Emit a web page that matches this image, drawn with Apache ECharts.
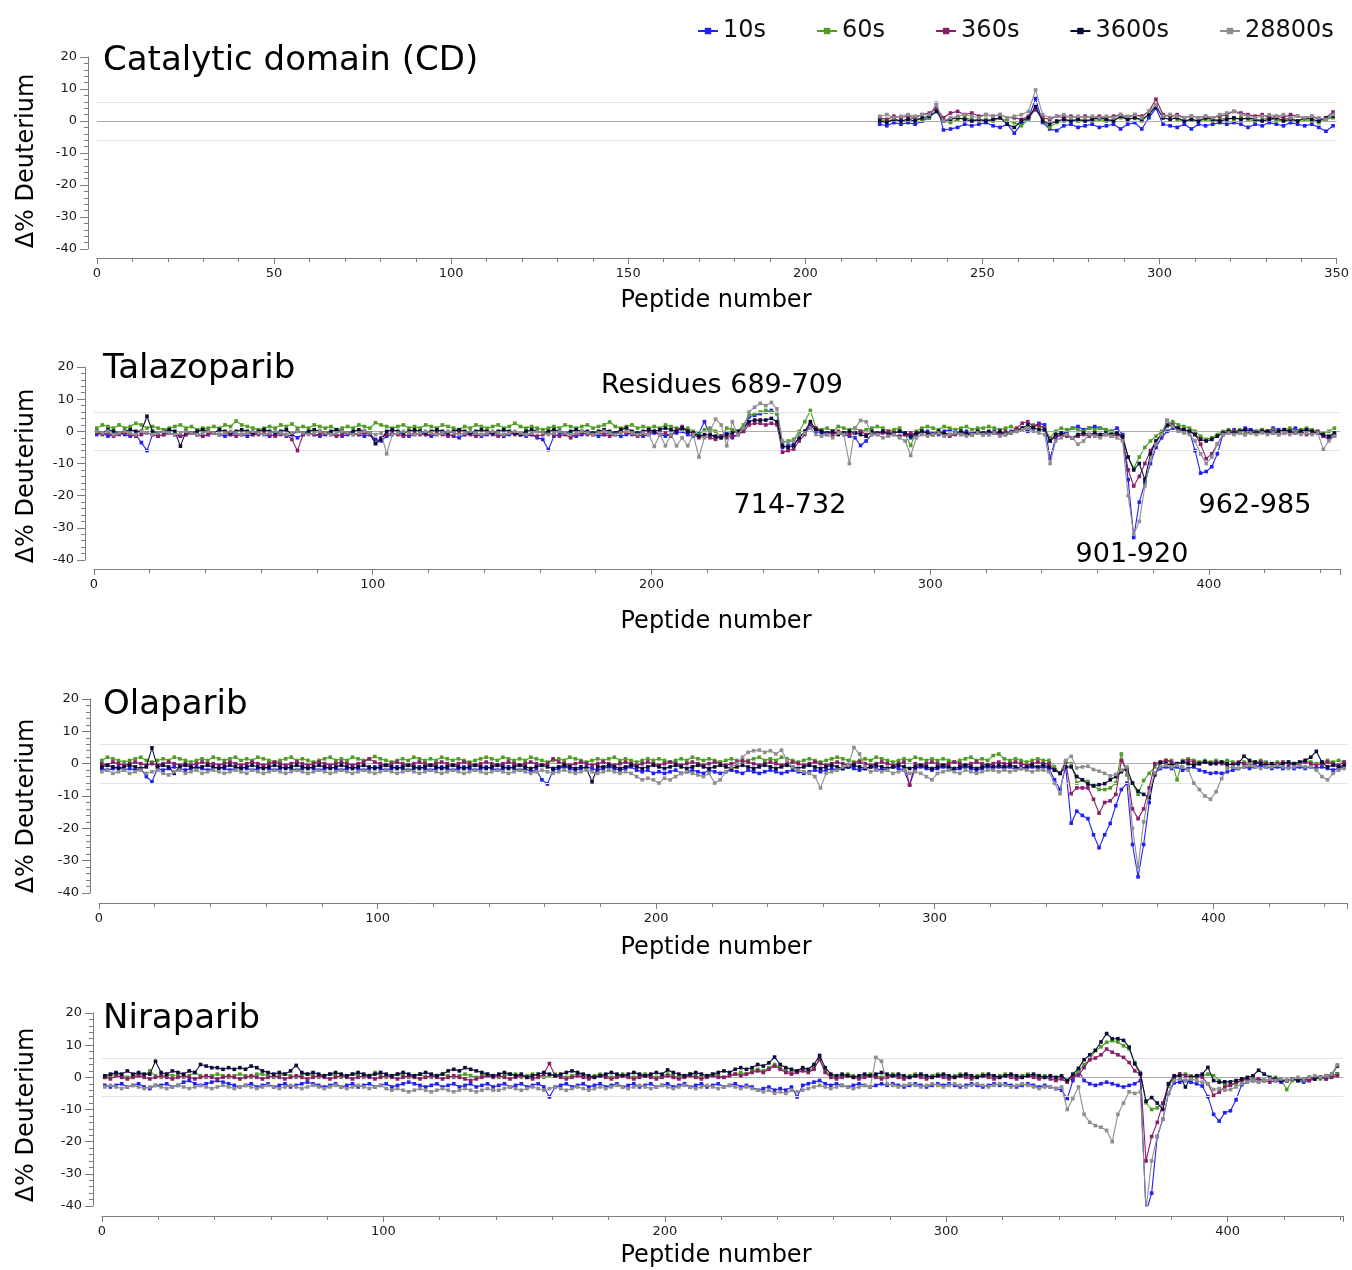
<!DOCTYPE html>
<html><head><meta charset="utf-8">
<script src="https://cdn.jsdelivr.net/npm/echarts@6/dist/echarts.min.js"></script>
<style>html,body{margin:0;padding:0;background:#fff}#c{width:1352px;height:1270px}</style>
</head><body><div id="c"></div>
<script>
// ---------- DATA (Δ% deuterium, one value every 2nd peptide) ----------
const timePoints = ['10s', '60s', '360s', '3600s', '28800s'];

// Catalytic domain: peptides 221..349 (step 2)
const cdFirstPeptide = 221;
const cd_10s = [-1,-1.5,-0.5,-1,-0.5,-1,0,1,5.5,-2.8, -2.5,-2,-1,-1.5,-1,-0.5,-1.5,-2,-1,-3.8, -1,1,7,-0.5,-2.5,-3,-1.5,-1,-2,-1.5, -1,-2,-1.5,-1,-2.5,-1,-0.5,-2.5,1,4, -1,-1.5,-2,-1,-2.5,-1,-1.5,-1,-0.5,-1, -0.5,-1,-2,-1,-1.5,-0.5,-1,-1.5,-0.5,-1, -1.5,-1,-2,-3.2,-1.5];
const cd_60s = [0.5,0,0.5,0,0.5,1,0.5,1,3,0, -0.5,0.5,1,0.5,0,0.5,0,1,0,-0.5, -1.5,0.5,4,0,-2,-0.5,0,0.5,0,0.5, 0,0.5,0,0.5,1,0.5,1,0,2,5, 1,2,0.5,0,0.5,0,0.5,0,0.5,1, 0.5,1,0.5,0,0.5,1,0,0.5,1,0, 0.5,0,-0.5,0.5,1];
const cd_360s = [1,0.5,1.5,1,1.5,1,2,2.5,4,1, 2.5,3,2,2.5,1.5,2,1.5,2,1,1, 0.5,1.5,3.5,1,0.5,1.5,1,1.5,1,1.5, 1,1.5,1,1.5,2,1,2,1.5,3,6.8, 2,1.5,2,1,1.5,1,1.5,1,1.5,2, 3,2.5,2,1.5,2,1,1.5,1,2,1.5, 1,1.5,0.5,1,2.8];
const cd_3600s = [0,-0.5,0.5,0,0.5,0,1,1.5,3,0, 0.5,1,0.5,0,0.5,0,0.5,1,-1,-2, 0,1,4.5,0,-1,0,0.5,0,0.5,0, 0.5,1,0.5,0,1.5,0.5,1,0.5,2,4.5, 1,0.5,1,0,0.5,0,1,0.5,0,0.5, 1,0.5,1,0.5,0,0.5,1,0,0.5,0, 1,0.5,0,1,1.5];
const cd_28800s = [1.5,2,1,1.5,2,1.5,2,2,5,0, 1,1.5,2,1.5,1,2,1.5,2,1,1.5, 2,3,9.7,2,1,1.5,2,1,1.5,1, 1.5,1,1.5,1,2,1.5,2,1,3,5, 1.5,2,1.5,1,1.5,1,1.5,1,2,2.5, 3,2,1.5,1,1.5,2,1.5,2,1,1.5, 1,1.5,1,0.5,2];

// Talazoparib: peptides 1..445 (step 2)
const talFirstPeptide = 1;
const tal_10s = [-1,-0.5,-1.5,-1,-0.5,-1,-1.5,-1,-3.5,-6, -1,-1.5,-1,-0.5,-1,-1.5,-1,-0.5,-1,-1.5, -1,-0.5,-1,-1.5,-1,-0.5,-1,-1.5,-1,-0.5, -1,-1.5,-1,-0.5,-1.5,-1,-2,-1,-0.5,-1, -1.5,-1,-0.5,-1,-1.5,-1,-0.5,-1,-1.5,-1, -2.5,-3,-1.5,-1,-0.5,-1,-1.5,-1,-0.5,-1, -1.5,-1,-0.5,-1,-1.5,-2,-1,-0.5,-1,-1.5, -1,-0.5,-1,-1.5,-1,-0.5,-1,-1.5,-1,-2, -2.5,-5.7,-1.5,-1,-0.5,-1,-1.5,-1,-0.5,-1, -1.5,-1,-0.5,-1,-1.5,-1,-0.5,-1,-1.5,-1, -0.5,-1,-1.5,-1,-0.5,0,-1,-1.5,-0.5,3, -1,-2,-1.5,-0.5,-2,-1,0,4.5,5,5.5, 6,6.5,5.5,-5,-4.5,-4,-2,0,2,0, -0.5,-1,0,-0.5,-1,-1.5,-2,-4.4,-3,-1, -0.5,0,-1,-0.5,0,-1,-2,-1,-0.5,0, -0.5,-1,0,0.5,-0.5,-1,0,-0.5,0,-1, -0.5,0,-1,-0.5,0,0.5,1,0,1.5,2.5, 2,-8.5,-2,-1,0,1,1.5,0.5,1,1.5, 1,0.5,0,1,-1,-15,-33,-22,-16,-10, -5,-2,0,1,0.5,0,0,-6,-13,-12.5, -11,-7,-1,0,0.5,0,1,0.5,0,0.5, 0,1,0.5,0,0.5,1,0,0.5,0,-0.5, -1.5,-2.5,-1.5];
const tal_60s = [1,2,1.5,1,2,1,1.5,2.5,2,1, 1.5,1,0.5,1,1.5,2,1,1.5,0.5,1, 1,1.5,1,2,1.5,3.2,2,1.5,1,0.5, 1,1.5,1,2,1.5,2.3,1,1.5,1,2, 1.5,1,1.5,0.5,1,1.5,1,2,1.5,1, 2.7,2,1.5,1,1.5,2,1,1.5,1,2, 1.5,1,2,1.5,1,0.5,1.5,1,2,1.5, 1,1.5,2,1,1.5,2.5,1.5,1,1.5,1, 0.5,1,1.5,1,2,1.5,1,1.5,2,1, 1.5,2,2.9,1.5,1,1.5,2,1,1.5,1, 1.5,1,2,1.5,1,0.5,1,0,-1,0.5, 1,0,-2,1,0.5,0,2,5,5.5,6, 6.5,6,5.5,-3.5,-3,-2.5,0,3,6.5,1, 0.5,1,0,1.5,1,0.5,1,0,0.5,1, 1.5,1,0,0.5,1,-1,-4.4,0,1,1.5, 1,0.5,1.5,1,0.5,1,1.5,0.5,1,1, 1.5,1,0.5,1,1.5,0.5,1,1,2,1.5, 1,-2,0,1,0.5,1,0.5,0,1,0.5, 1,0.5,0,-0.5,-1.5,-8,-11.5,-8,-5,-3, -1.5,0,1.5,3,2,1.5,1,0,-1.5,-2.5, -2,-1,0,0.5,0,0.5,0,-0.5,0,0.5, 0,0.5,0,0.5,1,0,0.5,1,0.5,0, -0.5,0,1];
const tal_360s = [-0.5,-1,-0.5,-1.5,-1,-0.5,-1,-1.5,-1,-0.5, -1,-1.5,-1,-0.5,-1,-1.5,-1,-0.5,-1,-1.5, -1,-0.5,-1,-0.5,-1,-1.5,-1,-0.5,-1,-1, -0.5,-1,-1.5,-1,-1,-2.5,-6,-1,-0.5,-1, -1,-0.5,-1,-1.5,-1,-0.5,-1,-1,-0.5,-1, -3.8,-2,-1,-0.5,-1,-1.5,-1,-0.5,-1,-1, -1,-0.5,-1,-1.5,-1,-0.5,-1,-1,-1.5,-1, -0.5,-1,-1.5,-1,-0.5,-1,-1,-0.5,-1,-1.5, -1,-0.5,-1,-1.5,-1,-2,-1,-0.5,-1,-1, -0.5,-1,-1.5,-1,0,-0.5,-1,-1.5,-1,-0.5, 0,-1,-0.5,-1.5,0.5,1.5,0,-1,-2,-1.5, -2,-2.5,-1.5,-2,-1.5,-1,0,2,2.5,2.5, 2,2.5,2,-6.5,-6,-5.5,-3,-1,2,1, 0,-0.5,-1,0,-0.5,-1,-0.5,0,-1,-0.5, -1,-0.5,0,-1,-1.5,-1,-0.5,-1,0,-0.5, -1,-0.5,-1,-1.5,-1,-0.5,-1,-1,-0.5,-1, -1,-0.5,-1,0,-0.5,1,2.5,3,1.5,2, 1,-3,-1.5,-1,-1.5,-2,-1.5,-1,-1.5,-1, -1.5,-1,-1.5,-1,-2,-12,-17,-14,-10,-6, -3,-1,3.4,2,1,0.5,0,-1,-4,-8.5, -7,-4,-1,-0.5,0,-0.5,-1,0,-0.5,0, -0.5,0,-1,-0.5,0,-0.5,0,-1,-0.5,0, -1.5,-2,-1];
const tal_3600s = [0,-0.5,0.5,0,-0.5,0,0.5,0,0,4.7, 0,-0.5,0,0.5,0,-4.6,0,-0.5,0,0.5, 0,-0.5,0.5,0,-0.5,0,0.5,0,-0.5,0, 0.5,0,-0.5,0,0.5,-1,0,-0.5,0,0.5, 0,-0.5,0,0.5,0,-0.5,0,0.5,0,-0.5, -3.8,-2.5,0,0.5,0,-0.5,0,0.5,0,-0.5, 0,0.5,0,-0.5,0,0.5,0,-0.5,0,0.5, 0,-0.5,0,0.5,0,-0.5,-1,0,0.5,0, -0.5,0,0.5,0,-0.5,0,0.5,0,0,-0.5, 0,0.5,0,-0.5,0.5,1,0,-0.5,0,0.5, 0,0.5,1,0.5,0,1,0,-0.5,-1.5,-1, -1,-1.5,-2,-1,-0.5,0,1,3,3.5,3.5, 3.5,4,3,-4.5,-5,-4.5,-2,0,3,0.5, 0,-0.5,0,-1,-0.5,0,-0.5,-1,-1.5,0, -0.5,0,-1,-0.5,0,-0.5,-1.5,-0.5,0,-0.5, -1,0,-0.5,-1,-0.5,0,-0.5,-1,0,-0.5, 0,-0.5,0,-1,-0.5,0,1,2,1,0.5, 0.5,-3,-1,-0.5,-1,-2,-1,-0.5,-1,-0.5, -1,-0.5,-1,-0.5,-1.5,-8,-12,-10,-15,-7, -3,-1,2,1.5,1,0.5,0,-1,-2.5,-3, -2.5,-1.5,-0.5,0,-0.5,0,0.5,0,-0.5,0, 0,-0.5,0,0.5,0,-0.5,0,0.5,0,-0.5, -1,-1.5,-0.5];
const tal_28800s = [0,-0.5,0,-1,-0.5,0,-0.5,-1,0,-0.5, -1,-0.5,0,-0.5,-1,-0.5,0,-0.5,-1,-0.5, 0,-0.5,-1,-0.5,0,-0.5,-1,-0.5,0,-0.5, -1,-0.5,0,-0.5,-1,-0.5,0,-0.5,-1,-0.5, 0,-0.5,-1,-0.5,0,-0.5,-1,-0.5,0,-0.5, -1,-0.5,-7,-1,-0.5,0,-0.5,-1,-0.5,0, -0.5,-1,-0.5,0,-0.5,-1,-0.5,0,-0.5,-1, -0.5,0,-0.5,-1,-0.5,0,-0.5,-1,-0.5,0, -0.5,-1,-0.5,0,-0.5,-1,-0.5,0,-0.5,-1, -0.5,0,-0.5,-1,-0.5,0,-0.5,-1,-0.5,-1, -4.7,-1,-4.5,-1,-4.5,-2,-4.5,-1,-8,-2, 0,3.8,2,-4.5,3,-1,1,6,7.5,8.7, 8,9,7,-3,-3.5,-3,-1,-0.5,1,-1, -1.5,-1,-2,-0.5,-1,-10,1,3.4,3,-1, -1,-2,-1.5,-1,-2,-3,-7.5,-2,-1,-1.5, -1,-0.5,-1.5,-1,-0.5,-1,-1.5,-1,-0.5,-1, -1,-0.5,-1.5,-1,-0.5,0,0.5,1,0,-0.5, -1,-10,-3,-2,-1,-2,-4,-3,-1,-1.5, -2,-1,-1.5,-2,-3,-20,-32,-28,-17,-9, -4,-1,3.4,1.5,0,-0.5,-1,-3,-7,-10, -8,-4,-1,-0.5,-1,-0.5,-1,-0.5,-1,-0.5, -1,-0.5,-1,-0.5,-1,-0.5,-1,-0.5,-1,-0.5, -5.6,-3,-1.5];

// Olaparib: peptides 1..447 (step 2)
const olaFirstPeptide = 1;
const ola_10s = [-1.5,-2,-1.5,-1,-2,-1.5,-2,-1.5,-4,-5.6, -1.5,-2,-1.5,-1,-1.5,-2,-1.5,-1,-1.5,-2, -1.5,-1,-1.5,-2,-1.5,-1,-1.5,-2,-1.5,-1, -1.5,-2,-1.5,-1,-1.5,-2,-1.5,-1,-1.5,-2, -1.5,-1,-1.5,-2,-1.5,-1,-1.5,-2,-1.5,-1, -1.5,-2,-1.5,-1,-1.5,-2,-1.5,-1,-1.5,-2, -1.5,-1,-1.5,-2,-1.5,-1,-1.5,-2,-1.5,-1, -1.5,-2,-1.5,-1,-1.5,-2,-1.5,-2.5,-2,-5, -6.3,-2,-1.5,-1,-1.5,-2,-1.5,-1,-1.5,-2, -1.5,-1,-1.5,-2,-1.5,-1,-2,-2.5,-2,-3, -2.5,-3,-2.5,-2,-3,-2.5,-2,-2.5,-3,-2, -2.5,-3,-2.5,-2,-2.5,-3,-2,-2.5,-3,-2.5, -2,-2.5,-3,-2.5,-2,-2.5,-3,-2.5,-2,-2.5, -2,-1.5,-2,-1.5,-1,-1.5,-2,-1.5,-1,-1.5, -2,-1.5,-1,-1.5,-2,-6.6,-1.5,-1,-1.5,-2, -1.5,-1,-1.5,-2,-1.5,-1,-1.5,-2,-1.5,-1, -1.5,-1,-1.5,-1,-1.7,-1,-1.5,-1,-1.5,-1, -1.5,-5,-8,-1,-18.4,-14.7,-16,-17,-22,-26, -22,-18.5,-13,-8,-6,-25,-35,-25,-12,-3, -1.5,-1,-1.5,-1,-2,-1.5,-1,-2,-2.5,-3, -2.8,-3,-2.5,-2,-1.5,-1,-1.5,-1,-0.5,-1, -1.5,-1,-1.5,-1,-1.5,-1,-1.5,-1,-1.5,-1, -1.5,-2,-1.5,-1];
const ola_60s = [1,2,1.5,1,0.5,1,1.5,2,1,0.5, 1,1.5,1,2,1.5,1,0.5,1,1.5,1, 2,1.5,1,1.5,2,1,1.5,1,2,1.5, 1,0.5,1,1.5,2,1,1.5,1,0.5,1, 1.5,2,1,1.5,1,2,1.5,1,1.5,2.2, 1.5,1,0.5,1,1.5,1,2,1.5,1,1.5, 1,2,1.5,1,1.5,1,0.5,1,1.5,2, 1.5,1,2,1.5,1,1.5,1,2,1.5,1, 0.5,1,1.5,1,2,1.5,1,0.5,1,1.5, 1,1.5,2,1,1.5,1,0.5,1,1.5,1, 1.5,1,0.5,1,1.5,1,2,1.5,1,1.5, 1,0.5,1,1.5,1,0.5,1,1.5,2,1, 1.5,1,2,1.5,1,0.5,1,1.5,1,0.5, 1,1.5,2,1.5,1,0.5,1,1.5,1,2, 1.5,1,0.5,1,1.5,1,2,1.5,1,1.5, 1,1.5,1,0.5,1,1.5,2,1,1.5,1, 2.5,3,1.5,1,1.5,1,0.5,1,1.5,1, 1,-1,-3,0.5,0,-6,-5,-5.5,-7,-8, -8,-7.5,-6,3,-3.5,-6,-9.5,-5.2,-3,-1, 0.5,1,1,-5,1,1.5,1,0.5,1,0.5, 1,0.5,1,0.5,0,0.5,0,0.5,1,0.5, 0,0.5,0,0.5,0,0.5,1,0.5,0,0.5, 1,0.5,1,0.5];
const ola_360s = [0,-0.5,0.5,0,-0.5,0,0.5,0,-0.5,0, -0.5,0,0.5,0,-0.5,0,-0.5,0,0.5,0, 0,-0.5,0,0.5,0,-0.5,0,0.5,0,-0.5, 0,0.5,0,-0.5,0,0.5,0,-0.5,0,0.5, 0,-0.5,0,0.5,0,-0.5,0,0.5,1.5,0.5, 0,-0.5,0,0.5,0,-0.5,0,0.5,0,-0.5, 0,0.5,0,-0.5,0,0.5,0,-0.5,0,0.5, 0,-0.5,0,0.5,0,-0.5,0,0.5,0,-0.5, 0,1.5,0.5,0,-0.5,0,0.5,0,-0.5,0, 0.5,0,-0.5,0,0.5,0,-0.5,0,0.5,0, -0.5,0,0.5,0,-0.5,0,0.5,0,-0.5,0, 0.5,0,-0.5,0,0.5,1,0.5,0,-0.5,0, 0.5,0,-0.5,0,0.5,0,-0.5,0,0.5,0, -0.5,0,0.5,0,-0.5,0,0.5,0,-0.5,0, 0.5,0,-0.5,0,0.5,-6.6,0,-0.5,0,0.5, 0,-0.5,0,0.5,0,-0.5,0,0.5,0,-0.5, 0,0.5,0,0.1,0.5,0,-0.5,0,0.5,0, 0,-2,-3,0.5,-9.3,-7.5,-7.5,-7.5,-11,-15.3, -12,-11.5,-9.5,1,-2,-14,-17,-14,-7.5,0, 0.5,1,0.5,0,0.5,1,0.5,0,0.5,0, 0.5,0,-0.5,0,0.5,0,-0.5,0,0.5,0, -0.5,0,0.5,0,-0.5,0,0.5,0,-0.5,0, 0.5,0,-0.5,0.5];
const ola_3600s = [-1,-0.5,-1,-1.5,-1,-0.5,-1,-1.5,-1,4.9, -1,-0.5,-1,-3,-1,-0.5,-1,-1.5,-1,-0.5, -1,-1.5,-1,-0.5,-1,-1.5,-1,-0.5,-1,-1.5, -1,-0.5,-1,-1.5,-1,-0.5,-1,-1.5,-1,-0.5, -1,-1.5,-1,-0.5,-1,-1.5,-1,-0.5,-1,-1.5, -1,-0.5,-1,-1.5,-1,-0.5,-1,-1.5,-1,-0.5, -1,-1.5,-1,-0.5,-1,-1.5,-1,-0.5,-1,-1.5, -1,-0.5,-1,-1.5,-1,-0.5,-1,-1.5,-1,-0.5, -1,-1.5,-1,-0.5,-1,-1.5,-1,-1.5,-5.6,-1, -1,-0.5,-1,-1.5,-1,-0.5,-1,-1.5,-1,-0.5, -1,-1.5,-1,-0.5,-1,-1.5,-1,-0.5,-1,-1.5, -1,-0.5,-1,-1.5,-1,-0.5,-1,-1.5,-1,-0.5, -1,-1.5,-1,-0.5,-1,-1.5,-1,-0.5,-1,-1.5, -1,-0.5,-1,-1.5,-1,-0.5,-1,-1.5,-1,-0.5, -1,-1.5,-1,-0.5,-1,-1.5,-1,-0.5,-1,-1.5, -1,-0.5,-1,-1.5,-1,-0.5,-1,-1.5,-1,-0.5, -1,-0.5,-1,-0.5,-1,-1.5,-1,-0.5,-1,-0.5, -1,-2,-3,-1,-1,-4,-5,-6.3,-6.8,-6.5, -6.2,-5,-4,-2.5,-1.5,-6,-8.5,-9.5,-10.5,-3.5, 0.3,0,-0.5,0,0.5,0,-0.5,0,0.5,0, 0,0.5,0,-0.5,0,2.3,1,0.5,0,-0.5, 0,-0.5,0,0.5,0,0.5,1,2,3.8,0.5, -1,-0.5,-1,-0.5];
const ola_28800s = [-2.5,-2,-3,-2.5,-2,-3,-2.5,-2,-3,-2.5, -2,-3,-3.5,-2.5,-2,-3,-2.5,-2,-3,-2.5, -2,-2.5,-3,-2.5,-2,-2.5,-3,-2,-2.5,-3, -2.5,-2,-2.5,-3,-2.5,-2,-2.5,-3,-2.5,-2, -2.5,-3,-2.5,-2,-2.5,-3,-2.5,-2,-2.5,-3, -2.5,-2,-2.5,-3,-2.5,-2,-2.5,-3,-2.5,-2, -2.5,-3,-2.5,-2,-2.5,-3,-2.5,-2,-2.5,-3, -2.5,-2,-2.5,-3,-2.5,-2,-2.5,-3,-2.5,-2, -2.5,-3,-2.5,-2,-2.5,-3,-2.5,-2,-2.5,-3, -2.5,-2,-2.5,-3,-2.5,-3,-4,-5,-4.5,-5, -6,-4.5,-5,-4,-3,-2.5,-3,-3.5,-4,-3, -6,-5,-2.5,-1,0,2,3.5,4,4.2,3.5, 4,3,4.2,1,-1,-2,-2.5,-3,-4,-7.5, -3,-2.5,-2,-1,-0.5,5,3,-1,-2.5,-2, -2.5,-2,-3,-2.5,-2,-3,-2.5,-3,-4,-5, -3,-2.5,-2,-2.5,-3,-2,-2.5,-3,-2.5,-2, -2,-2.5,-2,-2.5,-2,-1.5,-2,-2.5,-2,-2, -2.5,-6,-9.3,1,2.3,-1.3,-1,-0.8,-1.8,-2.3, -3,-3.8,-3.3,-2,-1,-20,-32,-18,-9,-2.8, -1,-0.5,-1,-0.5,-1,-2,-6,-8,-10,-11, -8.7,-4.6,-1.5,-1,-1.5,-1,-0.5,-1,-1.5,-1, -1,-0.5,-1,-1.5,-1,-0.5,-1,-1,-2,-4, -5,-3,-2,-1.5];

// Niraparib: peptides 1..439 (step 2)
const nirFirstPeptide = 1;
const nir_10s = [-2.5,-3,-2.5,-2,-3,-2.5,-2,-3,-3.5,-2.5, -2.5,-2,-3,-2.5,-1.5,-1,-2,-2.5,-2,-1.5, -1,-1.5,-2,-2.5,-3,-2.5,-2,-3,-2.5,-2, -3,-2.5,-2,-3,-2.5,-2,-1.5,-2,-2.5,-3, -2.5,-2,-3,-2.5,-2,-3,-2.5,-2,-3,-2.5, -2,-3,-2.5,-2,-1.5,-2,-2.5,-3,-2.5,-2, -3,-2.5,-2,-3,-2.5,-2,-3,-2.5,-2,-3, -2.5,-2,-3,-2.5,-2,-3,-2.5,-2,-3,-6.1, -3,-2.5,-2,-3,-2.5,-2,-3,-2.5,-2,-3, -2.5,-2,-3,-2.5,-2,-3,-2.5,-2,-3,-2.5, -2,-3,-2.5,-2,-3,-2.5,-2,-3,-2.5,-2, -3,-2.5,-2,-3,-2.5,-3,-4,-3.5,-3,-4, -3.5,-4,-3,-6.1,-2.5,-2,-1.5,-1,-2,-2.5, -2,-2.5,-3,-2.5,-2,-2.5,-3,-2.5,-2,-2.5, -2,-2.5,-3,-2.5,-2,-2.5,-3,-2.5,-2,-2.5, -2,-2.5,-3,-2.5,-2,-2.5,-3,-2.5,-2,-2.5, -2,-2.5,-3,-2.5,-2,-2.5,-3,-2.5,-3,-3.5, -4,-6.6,-1,2.2,-1,-2,-2.5,-2,-1.5,-2, -2.5,-3,-2.5,-2,-1,-42,-36,-18.4,-13,-5, -1.7,-1.5,-1,-1.5,-2,-2.7,-6,-11.5,-13.6,-11, -10.4,-7,-2.3,-1.5,-1,-1.5,-1,-0.5,-1,-1.5, -1,-0.5,-1,-1.5,-1,-0.5,0,-0.5,0.5,1.1];
const nir_60s = [0,0.5,1,0.5,0,0.5,1,0.5,2,0.5, 0,1,0.5,0.5,0,0.5,1.5,0.5,0,0.5, 1,0.5,0,0.5,1,0.5,0,1,1,0.5, 0,0.5,1,0.5,0,1,1,0.5,0,0.5, 1,0.5,0,0.5,1,0.5,0,0.5,1.5,0.5, 0,0.5,1,0.5,0,0.5,1,0,0,0.5, 1,0.5,0,0.5,1,0.5,0,0.5,1,0.5, 0,0.5,1,1,0,0.5,1,0.5,0,0.5, 1,0.5,0,0.5,1,0.5,0,0.5,1,0.5, 0,0.5,1,0.5,0,0.5,1,0.5,0,0.5, 1,0.5,0,0.5,1,0.5,0,0.5,1,0.5, 0,0.5,1,1.5,1,2,2.5,2,3,4, 3,2,1.5,2,2.5,2,3,5.5,2,0.5, 0,0.5,1,0.5,0,0.5,1,0.5,0,0.5, 1,0.5,0,0.5,1,0.5,0,0.5,1,0.5, 0,0.5,1,0.5,0,0.5,1,0.5,0,0.5, 1,0.5,0,0.5,1,0.5,0,0.5,0,-0.5, 0,-1,0.5,1.8,4,5.5,8.3,9.5,10.9,11.4, 11,9.8,8.8,4.6,1.5,-7.9,-10,-9.5,-8,-2.8, 0,0.5,1,0.5,0,0.5,1,0.5,-1,-2.3, -2.3,-2,-1,-0.5,0,-0.5,-1,-0.5,0,-0.5, -3.8,-1,-0.5,-1,-0.5,0,-0.5,0,0.5,1];
const nir_360s = [0,-0.5,0.5,0,-0.5,0,0.5,0,-0.5,0, 0.5,0,-0.5,0,0.5,0,-0.5,0,0.5,0, -0.5,0,0.5,0,-0.5,0,0.5,0,-0.5,0, 0.5,0,-0.5,0,0.5,0,-0.5,0,0.5,0, -0.5,0,0.5,0,-0.5,0,0.5,0,-0.5,0, 0.5,0,-0.5,0,0.5,0,-0.5,0,0.5,0, -0.5,0,0.5,0,-0.5,-1,-0.5,0,0.5,0, 0.5,0,-0.5,0,0.5,0,-0.5,0,1,4.3, 0.5,0,-0.5,0,0.5,0,-0.5,0,0.5,0, -0.5,0,0.5,0,-0.5,0,0.5,0,-0.5,0, 0.5,0,-0.5,0,0.5,0,-0.5,0,0.5,0, 0,0.5,1,0.5,1,1.5,2,1.5,2.5,3.5, 2.5,1.5,1,1.5,2,1.5,2.5,5.7,1.5,0, -0.5,0,0.5,0,-0.5,0,0.5,0,-0.5,0, 0.5,0,-0.5,0,0.5,0,-0.5,0,0.5,0, -0.5,0,0.5,0,-0.5,0,0.5,0,-0.5,0, 0.5,0,-0.5,0,0.5,0,-0.5,0,-0.5,-1, -0.5,-1.5,0,0.7,3,5.5,6,7,8.8,7.8, 7,6.2,4.6,2,0.9,-26,-18.4,-14,-8,-2, 0,1.1,0.5,0,0.5,0,-2,-5.6,-4.6,-3, -2.5,-1.5,-1,-0.5,-1,-0.5,-1,-1.5,-1,-0.5, -1,-0.5,-1,-0.5,-1,-0.5,0,-0.5,0,0.5];
const nir_3600s = [0.5,1,1.5,1,2,1,1.5,1,1,5, 1.5,1,2,1.5,1,2,1.5,4,3.5,3, 3,2.5,3,2.5,3,2.5,3.5,3,2,1.5, 1,1.5,1,2,3.7,1.5,1,1.5,1,0.5, 1,1.5,1,0.5,1,1.5,1,0.5,1,1.5, 1,0.5,1,1.5,1,0.5,1,1.5,1,0.5, 1,2,2.5,2,3,2.5,2,1.5,1,0.5, 1,1.5,1,0.5,1,0,0.5,1,1.5,1, 0.5,1,1.5,2,1.5,1,0.5,0,0.5,1, 1.5,1,0.5,1,1.5,1,0.5,1,1.5,1, 2.3,1.5,1,0.5,1,1.5,1,0.5,1,1.5, 2,1.5,2.5,3,2.5,3,4,3.5,4.5,6.3, 4,3,2.5,2,3,2.5,4,6.8,3,1, 0.5,1,0.5,0,0.5,1,0.5,1,1.5,1, 0.5,1,0.5,0,0.5,1,0.5,0,0.5,1, 0.5,0,0.5,1,0.5,0,0.5,1,0.5,0, 0.5,1,0.5,0,0.5,1,0.5,0,0.5,0, 0.5,-1,1,2.8,5.5,7,8.4,11,13.6,12, 12,11.5,9.4,4.2,1.1,-7.4,-6.3,-8,-10,-2, 0.5,0.5,-3,0,0.5,1,3.1,-1,-1.5,-1.4, -1.4,-1,-0.5,0,0.5,2.2,1,0,-0.5,-1, -1,-0.5,-1,-0.5,0,-0.5,0,0.5,1,3.5];
const nir_28800s = [-3,-2.5,-3,-3.5,-3,-2.5,-3,-3.5,-3,-2.5, -3,-3.5,-3,-2.5,-3,-3.5,-3,-2.5,-3,-3.5, -3,-2.5,-3,-3.5,-3,-2.5,-3,-3.5,-3,-2.5, -3,-3.5,-3,-2.5,-3,-3.5,-3,-2.5,-3,-3.5, -3,-2.5,-3,-3.5,-3,-2.5,-3,-3.5,-3,-2.5, -3.5,-4,-3.5,-4,-4.5,-4,-3.5,-4,-4.5,-4, -3.5,-4,-4.5,-4,-3.5,-4,-4.5,-4,-3.5,-4, -4,-3.5,-3,-3.5,-4,-3.5,-3,-3.5,-4,-3.5, -3,-3.5,-4,-3.5,-3,-3.5,-4,-3.5,-3,-3.5, -3,-2.5,-3,-3.5,-3,-2.5,-3,-3.5,-3,-2.5, -3,-3.5,-3,-2.5,-3,-3.5,-3,-2.5,-3,-3.5, -3,-2.5,-3,-3.5,-3,-3.5,-4,-4.5,-4,-5, -4.5,-5,-4,-4.5,-4,-3.5,-3,-2.5,-3,-3.5, -3,-2.5,-3,-3.5,-3,-2.5,-3,6.2,5,-2, -2.5,-3,-2.5,-2,-2.5,-3,-2.5,-2,-2.5,-3, -2.5,-2,-2.5,-3,-2.5,-2,-2.5,-3,-2.5,-2, -2.5,-3,-2.5,-2,-2.5,-3,-3.5,-3,-3,-3.5, -3,-10,-6.6,-3,-11.5,-14,-15,-15.5,-16.5,-20, -11.5,-8,-4.5,-5,-4.5,-41,-26,-18.4,-13,-4.8, -1,-0.5,-1,-0.5,-1,-1.5,-2,-3.8,-3.5,-4, -3.8,-3,-2,-1.5,-1,-1.5,-1,-0.5,-1,-0.5, -1,-0.5,0,-0.5,0,0.5,0,0.5,1,3.9];

// ---------- CHART ----------
const FONT = '"DejaVu Sans", Verdana, sans-serif';
const seriesColors = ['#2020f8', '#4f9d22', '#8b1c6c', '#0c0c3a', '#8e8e8e'];

const panels = [
  { title: 'Catalytic domain (CD)', first: cdFirstPeptide, vals: [cd_10s, cd_60s, cd_360s, cd_3600s, cd_28800s],
    grid: { left: 97, top: 57, width: 1241, height: 192 }, xMax: 350, xInterval: 50, xOffset: 9, yOffset: 9,
    titleY: 61, nameY: 161, pepY: 301 },
  { title: 'Talazoparib', first: talFirstPeptide, vals: [tal_10s, tal_60s, tal_360s, tal_3600s, tal_28800s],
    grid: { left: 94, top: 367, width: 1246, height: 193 }, xMax: 447, xInterval: 100, xOffset: 9, yOffset: 9,
    titleY: 369, nameY: 476, pepY: 622 },
  { title: 'Olaparib', first: olaFirstPeptide, vals: [ola_10s, ola_60s, ola_360s, ola_3600s, ola_28800s],
    grid: { left: 99, top: 699, width: 1248, height: 194 }, xMax: 448, xInterval: 100, xOffset: 10, yOffset: 9,
    titleY: 705, nameY: 806, pepY: 948 },
  { title: 'Niraparib', first: nirFirstPeptide, vals: [nir_10s, nir_60s, nir_360s, nir_3600s, nir_28800s],
    grid: { left: 102, top: 1013, width: 1241, height: 193 }, xMax: 441, xInterval: 100, xOffset: 10, yOffset: 9,
    titleY: 1019, nameY: 1115, pepY: 1256 }
];

const axisColor = '#7d7d7d';
const grids = [], xAxes = [], yAxes = [], series = [], graphics = [];

panels.forEach((p, k) => {
  grids.push(Object.assign({ containLabel: false }, p.grid));
  xAxes.push({
    gridIndex: k, type: 'value', min: 0, max: p.xMax, interval: p.xInterval, offset: p.xOffset,
    axisLine: { onZero: false, lineStyle: { color: axisColor, width: 1 } },
    axisTick: { length: 6, lineStyle: { color: axisColor } },
    minorTick: { show: true, splitNumber: 5, length: 4, lineStyle: { color: axisColor } },
    axisLabel: { fontSize: 13, color: '#1a1a1a', margin: 9, fontFamily: FONT, showMaxLabel: k === 0 },
    splitLine: { show: false }, minorSplitLine: { show: false }
  });
  yAxes.push({
    gridIndex: k, type: 'value', min: -40, max: 20, interval: 10, offset: p.yOffset,
    axisLine: { show: true, onZero: false, lineStyle: { color: axisColor, width: 1 } },
    axisTick: { show: true, length: 8, lineStyle: { color: axisColor } },
    minorTick: { show: true, splitNumber: 5, length: 4, lineStyle: { color: axisColor } },
    axisLabel: { fontSize: 13, color: '#1a1a1a', margin: 11, fontFamily: FONT },
    splitLine: { show: false }, minorSplitLine: { show: false }
  });
  timePoints.forEach((t, s) => {
    const vals = p.vals[s];
    const ser = {
      name: t, type: 'line', xAxisIndex: k, yAxisIndex: k,
      data: vals.map((v, i) => [p.first + 2 * i, v]),
      symbol: 'rect', symbolSize: 3.6, showSymbol: true, showAllSymbol: true,
      color: seriesColors[s], lineStyle: { width: 1.1, color: seriesColors[s] },
      itemStyle: { color: seriesColors[s] }, animation: false, z: 3 + s, silent: true
    };
    if (s === 0) {
      ser.markLine = {
        silent: true, symbol: ['none', 'none'], label: { show: false }, animation: false,
        data: [
          { yAxis: 0, lineStyle: { color: '#ababab', width: 1, type: 'solid' } },
          { yAxis: 6, lineStyle: { color: '#e3e3e3', width: 1, type: 'solid' } },
          { yAxis: -6, lineStyle: { color: '#e3e3e3', width: 1, type: 'solid' } }
        ]
      };
    }
    series.push(ser);
  });
  graphics.push({ type: 'text', x: 103, y: p.titleY, style: { text: p.title, font: '34px ' + FONT, fill: '#000', align: 'left', verticalAlign: 'middle' } });
  graphics.push({ type: 'text', x: 716, y: p.pepY, style: { text: 'Peptide number', font: '24px ' + FONT, fill: '#000', align: 'center', verticalAlign: 'middle' } });
  graphics.push({ type: 'text', x: 27, y: p.nameY, rotation: Math.PI / 2, style: { text: 'Δ% Deuterium', font: '24px ' + FONT, fill: '#000', align: 'center', verticalAlign: 'middle' } });
});

const annotations = [
  { text: 'Residues 689-709', x: 722, y: 386 },
  { text: '714-732', x: 790, y: 506 },
  { text: '901-920', x: 1132, y: 555 },
  { text: '962-985', x: 1255, y: 506 }
];
annotations.forEach(a => graphics.push({ type: 'text', x: a.x, y: a.y, style: { text: a.text, font: '27px ' + FONT, fill: '#000', align: 'center', verticalAlign: 'middle' } }));

const chart = echarts.init(document.getElementById('c'), null, { renderer: 'canvas' });
chart.setOption({
  backgroundColor: '#fff',
  animation: false,
  legend: {
    data: timePoints, left: 692, top: 14, itemWidth: 20, itemHeight: 8, itemGap: 50,
    textStyle: { fontSize: 24, color: '#111', fontFamily: FONT }, selectedMode: false
  },
  grid: grids, xAxis: xAxes, yAxis: yAxes, series: series, graphic: graphics
});
</script></body></html>
